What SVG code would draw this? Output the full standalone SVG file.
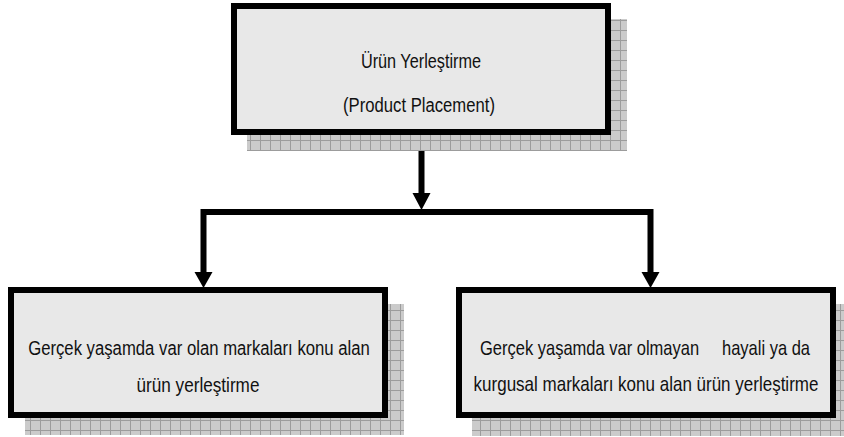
<svg xmlns="http://www.w3.org/2000/svg" width="844" height="437" viewBox="0 0 844 437">
<defs>
<pattern id="grid" width="10" height="10" patternUnits="userSpaceOnUse">
<rect width="10" height="10" fill="#cbcbcb"/>
<rect width="10" height="1" fill="#9c9c9c"/>
<rect width="1" height="10" fill="#9c9c9c"/>
</pattern>
<style>
.shadow{fill:url(#grid);}
.box{fill:#e8e8e8;stroke:#000;stroke-width:6;}
.t{font-family:"Liberation Sans",Arial,sans-serif;font-size:21px;fill:#111;text-anchor:middle;}
.wire{fill:none;stroke:#000;stroke-width:6;stroke-linejoin:miter;}
.head{fill:#000;}
</style>
</defs>
<rect width="844" height="437" fill="#fff"/>
<g id="connectors">
<path class="wire" d="M421.5 135 V195"/>
<polygon class="head" points="412.5,193 430.5,193 421.5,210"/>
<path class="wire" d="M203.5 274 V212 H650.5 V274"/>
<polygon class="head" points="194.5,272 212.5,272 203.5,288"/>
<polygon class="head" points="641.5,272 659.5,272 650.5,288"/>
</g>
<g id="top">
<rect class="shadow" x="247" y="19" width="380" height="132"/>
<rect class="box" x="234" y="6" width="374" height="126"/>
<text class="t" transform="translate(421,68) scale(0.775,1)">Ürün Yerleştirme</text>
<text class="t" transform="translate(419,112) scale(0.794,1)">(Product Placement)</text>
</g>
<g id="left">
<rect class="shadow" x="25" y="304" width="379" height="131"/>
<rect class="box" x="11" y="290" width="374" height="125"/>
<text class="t" transform="translate(199,355) scale(0.796,1)">Gerçek yaşamda var olan markaları konu alan</text>
<text class="t" transform="translate(198,392) scale(0.817,1)">ürün yerleştirme</text>
</g>
<g id="right">
<rect class="shadow" x="472" y="304" width="372" height="132"/>
<rect class="box" x="459" y="290" width="374" height="125"/>
<text class="t" transform="translate(645,355) scale(0.786,1)" xml:space="preserve">Gerçek yaşamda var olmayan     hayali ya da</text>
<text class="t" transform="translate(646,391) scale(0.81,1)">kurgusal markaları konu alan ürün yerleştirme</text>
</g>
</svg>
